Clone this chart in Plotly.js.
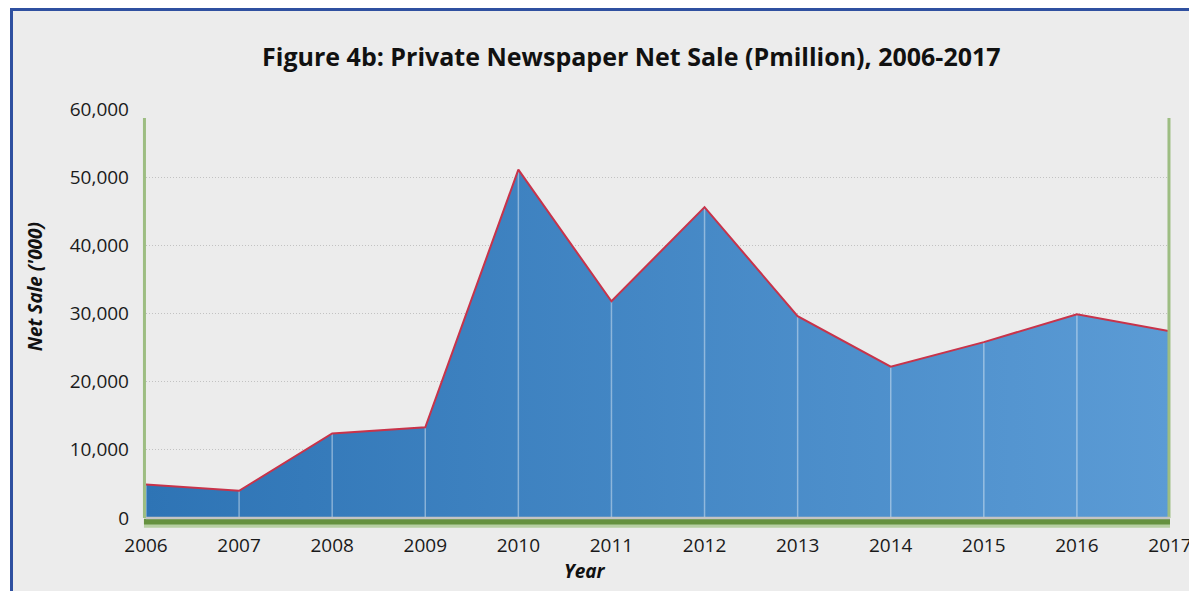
<!DOCTYPE html>
<html>
<head>
<meta charset="utf-8">
<script src="https://cdn.plot.ly/plotly-3.0.1.min.js"></script>
<style>
  html, body { margin: 0; padding: 0; background: #ffffff; }
  #wrap { position: relative; width: 1189px; height: 591px; overflow: hidden; background: #ffffff; }
  #frame { position: absolute; left: 10px; top: 8px; width: 1300px; height: 700px;
           border-left: 3px solid #2f50a0; border-top: 3px solid #2f50a0; background: #ececec; }
  #chart { position: absolute; left: 0; top: 0; width: 1189px; height: 591px; }
</style>
</head>
<body>
<div id="wrap">
  <div id="frame"></div>
  <div id="chart"></div>
</div>
<script>
// Data
const years = [2006, 2007, 2008, 2009, 2010, 2011, 2012, 2013, 2014, 2015, 2016, 2017];
const netSale = [4900, 4000, 12400, 13300, 51100, 31800, 45600, 29600, 22200, 25800, 29900, 27400];
const zeros = years.map(() => 0);
const yTickVals = [0, 10000, 20000, 30000, 40000, 50000, 60000];
const yTickText = ["0", "10,000", "20,000", "30,000", "40,000", "50,000", "60,000"];

const FONT = "Open Sans, Lato, DejaVu Sans, sans-serif";

const trace = {
  type: "scatter",
  mode: "lines",
  x: years,
  y: netSale,
  fill: "tozeroy",
  fillcolor: "#4a8ccc",
  fillgradient: {
    type: "horizontal",
    colorscale: [[0, "#2e74b5"], [1, "#5b9bd5"]]
  },
  line: { color: "#c8334a", width: 2 },
  error_y: {
    type: "data",
    symmetric: false,
    array: zeros,
    arrayminus: netSale,
    width: 0,
    thickness: 1.5,
    color: "rgba(255,255,255,0.4)"
  },
  hoverinfo: "x+y",
  showlegend: false
};

const layout = {
  width: 1189,
  height: 591,
  paper_bgcolor: "rgba(0,0,0,0)",
  plot_bgcolor: "rgba(0,0,0,0)",
  margin: { l: 146, r: 19, t: 109, b: 73 },
  font: { family: FONT, color: "#1a1a1a" },
  title: {
    text: "<b>Figure 4b: Private Newspaper Net Sale (Pmillion), 2006-2017</b>",
    font: { family: FONT, size: 25, color: "#111111" },
    xref: "container", x: 0.531, xanchor: "center",
    yref: "container", y: 0.903, yanchor: "middle"
  },
  xaxis: {
    range: [2006, 2017],
    tickmode: "array",
    tickvals: years,
    ticktext: years.map(String),
    showgrid: false,
    zeroline: false,
    showline: false,
    ticks: "",
    ticklabelstandoff: 14,
    ticklabeloverflow: "allow",
    tickfont: { family: FONT, size: 19, color: "#1a1a1a" },
    fixedrange: true
  },
  yaxis: {
    range: [0, 60000],
    tickmode: "array",
    tickvals: yTickVals,
    ticktext: yTickText,
    showgrid: true,
    gridcolor: "#c2c2c2",
    griddash: "1px,2px",
    gridwidth: 1,
    zeroline: false,
    showline: false,
    ticks: "",
    ticklabelstandoff: 16,
    tickfont: { family: FONT, size: 19, color: "#1a1a1a" },
    fixedrange: true
  },
  shapes: [
    // left green axis line
    { type: "line", xref: "paper", yref: "paper", x0: -0.0015, x1: -0.0015, y0: 0, y1: 0.978,
      line: { color: "#9dbd82", width: 3 } },
    // right green axis line
    { type: "line", xref: "paper", yref: "paper", x0: 0.999, x1: 0.999, y0: 0, y1: 0.978,
      line: { color: "#9dbd82", width: 3 } },
    // green shadow under base
    { type: "rect", xref: "paper", yref: "paper", x0: -0.002, x1: 1.0, y0: -0.024, y1: -0.004,
      fillcolor: "#b7cfa3", line: { width: 0 }, layer: "below" },
    { type: "rect", xref: "paper", yref: "paper", x0: -0.002, x1: 1.0, y0: -0.016, y1: -0.002,
      fillcolor: "#65913f", line: { width: 0 } },
    // gray base line
    { type: "line", xref: "paper", yref: "paper", x0: 0, x1: 1, y0: 0, y1: 0,
      line: { color: "#c4c4c4", width: 2.5 } }
  ],
  annotations: [
    { text: "<b><i>Net Sale ('000)</i></b>", xref: "paper", yref: "paper",
      x: -0.108, y: 0.565, textangle: -90, showarrow: false,
      xanchor: "center", yanchor: "middle",
      font: { family: FONT, size: 19, color: "#111111" } },
    { text: "<b><i>Year</i></b>", xref: "paper", yref: "paper",
      x: 0.429, y: -0.13, showarrow: false,
      xanchor: "center", yanchor: "middle",
      font: { family: FONT, size: 19, color: "#111111" } }
  ]
};

Plotly.newPlot("chart", [trace], layout, { displayModeBar: false, staticPlot: true });
</script>
</body>
</html>
